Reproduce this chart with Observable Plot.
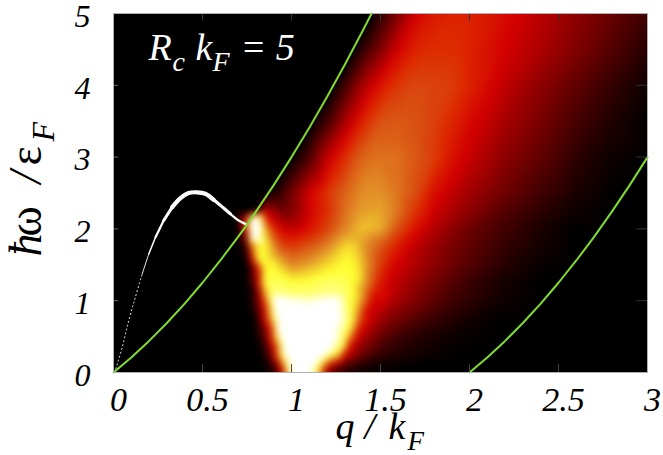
<!DOCTYPE html>
<html>
<head>
<meta charset="utf-8">
<script src="https://cdn.jsdelivr.net/npm/d3@7"></script>
<script src="https://cdn.jsdelivr.net/npm/@observablehq/plot@0.6"></script>
<style>html,body{margin:0;padding:0;background:#fff}svg{display:block}svg text{font-family:"Liberation Serif","Times New Roman",serif !important}</style>
</head>
<body>
<div id="chart"></div>
<script>
const xTicks = [0, 0.5, 1, 1.5, 2, 2.5, 3];
const xTickLabels = ["0", "0.5", "1", "1.5", "2", "2.5", "3"];
const yTicks = [0, 1, 2, 3, 4, 5];

// spectral intensity, one row per energy
const qGrid = [0, .7, .75, .8, .85, .9, .95, 1, 1.1, 1.2, 1.25, 1.3, 1.35, 1.4, 1.5, 1.6, 1.7, 1.8, 1.9, 2, 2.2, 2.4, 2.6, 2.8, 3];
const omegaGrid = [0, .1, .25, .5, .75, 1, 1.1, 1.25, 1.5, 1.75, 2, 2.25, 2.5, 3, 3.5, 4, 4.5, 5];
const row0   = [0,0,0,0,0,.03,.3,.95,1.05,.2,.1,.05,.03,.01,0,0,0,0,0,0,0,0,0,0,0];
const row01  = [0,0,0,0,.01,.12,.55,1.05,1.15,.42,.2,.12,.08,.05,.02,.01,0,0,0,0,0,0,0,0,0];
const row025 = [0,0,0,0,.03,.3,.85,1.2,1.25,.92,.75,.33,.25,.16,.08,.05,.03,.015,.005,0,0,0,0,0,0];
const row05  = [0,0,0,.01,.15,.55,1.05,1.3,1.3,1.15,.98,.78,.45,.27,.16,.1,.06,.04,.02,.01,0,0,0,0,0];
const row075 = [0,0,0,.03,.33,.75,1.15,1.2,1.2,1.2,1.1,.9,.72,.42,.25,.18,.13,.09,.06,.03,0,0,0,0,0];
const row1   = [0,0,0,.12,.45,.97,1.08,.98,.94,1.02,1.05,.85,.72,.58,.34,.25,.2,.15,.1,.07,.02,0,0,0,0];
const row11  = [0,0,0,.1,.6,.85,.85,.82,.82,.85,.84,.82,.75,.6,.37,.27,.21,.16,.11,.08,.025,0,0,0,0];
const row125 = [0,0,0,.22,.76,.8,.8,.77,.78,.82,.82,.8,.74,.65,.38,.29,.23,.18,.13,.09,.03,0,0,0,0];
const row15  = [0,0,0,.33,.76,.74,.65,.58,.63,.7,.73,.76,.74,.66,.45,.33,.27,.22,.17,.13,.06,.01,0,0,0];
const row175 = [0,0,.05,.55,.76,.6,.47,.45,.5,.58,.64,.7,.7,.62,.5,.38,.29,.24,.19,.15,.08,.03,0,0,0];
const row2   = [0,0,.6,1.4,.65,.42,.33,.3,.36,.46,.52,.58,.63,.67,.64,.48,.36,.28,.22,.17,.1,.04,0,0,0];
const row225 = [0,0,0,0,.3,.25,.17,.2,.33,.42,.48,.54,.59,.62,.63,.55,.43,.32,.27,.22,.13,.07,.02,0,0];
const row25  = [0,0,0,0,0,.05,.1,.18,.33,.43,.48,.52,.56,.6,.6,.55,.48,.36,.3,.25,.17,.1,.04,0,0];
const row3   = [0,0,0,0,0,0,0,0,.12,.3,.36,.42,.48,.52,.55,.54,.5,.45,.37,.31,.22,.15,.07,.02,0];
const row35  = [0,0,0,0,0,0,0,0,0,.1,.18,.26,.33,.4,.49,.5,.49,.46,.41,.35,.26,.19,.11,.05,0];
const row4   = [0,0,0,0,0,0,0,0,0,0,.02,.1,.18,.26,.37,.44,.47,.46,.45,.4,.3,.22,.15,.08,.02];
const row45  = [0,0,0,0,0,0,0,0,0,0,0,0,0,.08,.2,.33,.4,.42,.42,.4,.33,.27,.2,.13,.06];
const row5   = [0,0,0,0,0,0,0,0,0,0,0,0,0,0,.07,.2,.33,.38,.4,.4,.35,.29,.22,.16,.1];
const intensityRows = [row0, row01, row025, row05, row075, row1, row11, row125, row15, row175, row2, row225, row25, row3, row35, row4, row45, row5];

// colour edges: [q, omega] points at a fixed level
const redLeftQ = [.755, .76, .785, .82, .83, .85, .88, .90, .93];
const redLeftW = [1.98, 1.74, 1.52, 1.28, 1.05, .82, .58, .35, .12];
const yellowLeftQ = [.8, .825, .84, .87, .895, .92, .945, .97];
const yellowLeftW = [1.74, 1.52, 1.28, 1.05, .82, .58, .35, .12];
const whiteQ = [.90, .91, .925, .95, .99, 1.0, 1.09, 1.13, 1.21, 1.24, 1.265, 1.26];
const whiteW = [1.03, .82, .58, .35, .12, 0, 0, .12, .35, .58, .82, 1.03];
const yellowRightQ = [1.37, 1.36, 1.34, 1.32, 1.29, 1.17, 1.14];
const yellowRightW = [1.28, 1.05, .82, .58, .35, .12, 0];
const redRightQ = [1.58, 1.54, 1.47, 1.42, 1.385, 1.33, 1.23];
const redRightW = [1.5, 1.28, 1.05, .82, .58, .35, .12];
const spotQ = [.79, .775, .8];
const spotW = [2.12, 1.92, 1.88];
const spotV = [1.4, 1.1, 1.1];

// green boundaries of the continuum
const upperQ = [0, .1, .2, .3, .4, .5, .6, .7, .75, .8, .9, 1, 1.1, 1.2, 1.3, 1.4, 1.45];
const upperOmega = [0, .21, .44, .69, .96, 1.25, 1.56, 1.89, 2.06, 2.24, 2.61, 3, 3.41, 3.84, 4.29, 4.76, 5];
const lowerQ = [2, 2.1, 2.2, 2.3, 2.4, 2.5, 2.6, 2.7, 2.8, 2.9, 3];
const lowerOmega = [0, .21, .44, .69, .96, 1.25, 1.56, 1.89, 2.24, 2.61, 3];

// white collective mode
const modeQ = [.007, .049, .086, .123, .161, .198, .236, .282, .329, .376, .422, .469, .516, .563, .609, .656, .703, .74];
const modeOmega = [0, .353, .724, 1.05, 1.37, 1.65, 1.885, 2.117, 2.30, 2.43, 2.50, 2.51, 2.49, 2.405, 2.31, 2.21, 2.117, 2.07];

const samples = [];
omegaGrid.forEach((w, j) => qGrid.forEach((q, i) => samples.push({q, w, v: intensityRows[j][i]})));
upperQ.forEach((q, i) => { if (q >= .8) samples.push({q, w: upperOmega[i], v: 0}); });
lowerQ.forEach((q, i) => samples.push({q, w: lowerOmega[i], v: 0}));
const addEdge = (qs, ws, v) => qs.forEach((q, i) => samples.push({q, w: ws[i], v}));
addEdge(redLeftQ, redLeftW, .33);
addEdge(yellowLeftQ, yellowLeftW, .75);
addEdge(whiteQ, whiteW, 1);
addEdge(yellowRightQ, yellowRightW, .75);
addEdge(redRightQ, redRightW, .33);
spotQ.forEach((q, i) => samples.push({q, w: spotW[i], v: spotV[i]}));

const zip = (xs, ys) => xs.map((q, i) => ({q, w: ys[i]}));
const upper = zip(upperQ, upperOmega);
const lower = zip(lowerQ, lowerOmega);
const mode = zip(modeQ, modeOmega);

const serif = "Liberation Serif";
const mL = 113, mT = 13, mR = 16, mB = 83;
function label(text, x, y, size, o = {}) {
  return Plot.text([text], {
    text: d => d, frameAnchor: "top-left", dx: x - mL, dy: y - mT,
    fontSize: size, fontFamily: serif, fontStyle: "italic", textAnchor: "start",
    lineAnchor: "bottom", fill: "black", clip: false, ...o
  });
}
const modeLine = (a, b, width, extra = {}) => Plot.line(mode.slice(a, b), {
  x: "q", y: "w", stroke: "white", strokeWidth: width, curve: "catmull-rom", strokeLinecap: "round", ...extra
});

const chart = Plot.plot({
  width: 663, height: 455,
  marginLeft: mL, marginTop: mT, marginRight: mR, marginBottom: mB,
  x: {domain: [0, 3], label: null},
  y: {domain: [0, 5], label: null},
  color: {type: "linear", domain: [0, .33, .42, .48, .6, .75, 1],
          range: ["#000000", "#d40000", "#dd2c00", "#d94c10", "#e29028", "#ffff30", "#ffffff"], clamp: true},
  style: {background: "white", fontFamily: serif},
  marks: [
    Plot.raster(samples, {x: "q", y: "w", fill: "v", interpolate: "barycentric", pixelSize: 1, blur: 3}),
    modeLine(0, 5, 1, {strokeDasharray: "1 3"}),
    modeLine(4, 6, .9),
    modeLine(5, 7, 1.5),
    modeLine(6, 8, 2.2),
    modeLine(7, 9, 3),
    modeLine(8, 14, 4.2),
    modeLine(13, 16, 3.2),
    modeLine(15, 18, 2.2),
    Plot.line(upper, {x: "q", y: "w", stroke: "#7fdc30", strokeWidth: 2}),
    Plot.line(lower, {x: "q", y: "w", stroke: "#7fdc30", strokeWidth: 2}),
    Plot.ruleX(xTicks.slice(1, -1), {y1: 5, y2: 4.89, stroke: "#333"}),
    Plot.ruleX(xTicks.slice(1, -1), {y1: 0, y2: .11, stroke: "#444"}),
    Plot.ruleY(yTicks.slice(1, -1), {x1: 3, x2: 2.94, stroke: "#333"}),
    Plot.ruleY(yTicks.slice(1, -1), {x1: 0, x2: .03, stroke: "#666"}),
    Plot.frame({stroke: "#b0b0b0", strokeWidth: 1}),
    Plot.axisX({ticks: xTicks, tickFormat: (d, i) => xTickLabels[i], tickSize: 0, tickPadding: 14, dx: 5,
      fontSize: 34, fontStyle: "italic", fontFamily: serif, label: null, fontVariant: "normal", fill: "black"}),
    Plot.axisY({ticks: yTicks, tickFormat: d => String(d), tickSize: 0, tickPadding: 23, dy: 3,
      fontSize: 32, fontStyle: "italic", fontFamily: serif, label: null, fontVariant: "normal", fill: "black"}),
    // x axis title
    label("q", 335, 438, 38),
    label("/", 364, 438, 38),
    label("k", 388, 438, 38),
    label("F", 407, 449, 27),
    // annotation
    label("R", 148, 59, 38, {fill: "white"}),
    label("c", 172, 70, 28, {fill: "white"}),
    label("k", 195, 59, 38, {fill: "white"}),
    label("F", 212, 70, 28, {fill: "white"}),
    label("= 5", 240, 59, 38, {fill: "white"}),
    // y axis title, rotated
    label("ħ", 40, 256, 46, {rotate: -90}),
    label("ω", 40, 236, 46, {rotate: -90, fontStyle: "normal"}),
    label("/", 40, 183, 46, {rotate: -90}),
    label("ε", 40, 165, 46, {rotate: -90, fontStyle: "normal"}),
    label("F", 53, 141, 32, {rotate: -90})
  ]
});
document.getElementById("chart").append(chart);
</script>
</body>
</html>
